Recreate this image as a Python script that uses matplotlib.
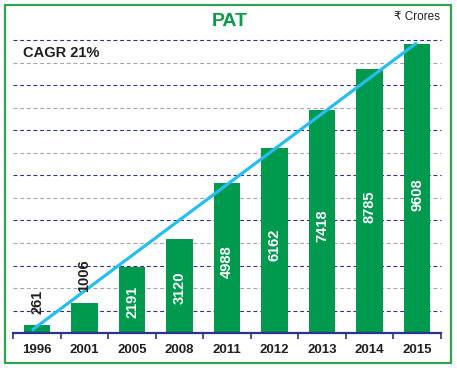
import matplotlib
matplotlib.use("Agg")
import matplotlib.pyplot as plt
from matplotlib.patches import Rectangle
import numpy as np

plt.rcParams['font.family'] = ['Liberation Sans', 'DejaVu Sans']

years = ['1996', '2001', '2005', '2008', '2011', '2012', '2013', '2014', '2015']
pat = [261, 1006, 2191, 3120, 4988, 6162, 7418, 8785, 9608]
trend_x = [-0.11, 8.0]
trend_y = [100, 9660]
grid_step = 750
y_max = 9750

GREEN = '#009a4e'
NAVY = '#2a3588'
GRAY = '#a3a3c0'
DARK = '#231f20'
CYAN = '#27bdf0'

fig = plt.figure(figsize=(4.57, 3.68), dpi=100)
fig.patch.set_facecolor('white')
fig.patches.append(Rectangle((5 / 457, 5 / 368), 446 / 457, 358 / 368,
                             transform=fig.transFigure, fill=False,
                             edgecolor='#2ea14f', linewidth=1.6))

ax = fig.add_axes([13.3 / 457, (368 - 333.3) / 368, 427.5 / 457, 293.3 / 368])
x = np.arange(len(years))

for i, gy in enumerate(np.arange(grid_step, y_max + 1, grid_step)):
    ax.axhline(gy, color=NAVY if i % 2 == 0 else GRAY, lw=0.8,
               linestyle=(0, (3.5, 2.5)), zorder=1, clip_on=False)

ax.bar(x, pat, width=0.56, color=GREEN, zorder=2)
ax.plot(trend_x, trend_y, color=CYAN, lw=2.3, zorder=3, solid_capstyle='butt')

for xi, v in zip(x, pat):
    if v < 2000:
        ax.annotate(str(v), (xi, v), xytext=(0, 8), textcoords='offset points',
                    rotation=90, ha='center', va='bottom', fontsize=10.5,
                    fontweight='bold', color=DARK, zorder=4)
    else:
        ax.text(xi, v * 0.48, str(v), rotation=90, ha='center', va='center',
                fontsize=10.5, fontweight='bold', color='white', zorder=4)

ax.set_xlim(-0.5, len(years) - 0.5)
ax.set_ylim(0, y_max)
for s in ['top', 'left', 'right']:
    ax.spines[s].set_visible(False)
ax.spines['bottom'].set_color(NAVY)
ax.spines['bottom'].set_linewidth(1.6)
ax.spines['bottom'].set_zorder(5)
ax.set_yticks([])
ax.set_xticks(x)
ax.set_xticklabels(years, fontsize=9.5, fontweight='bold', color=DARK)
ax.tick_params(axis='x', which='major', length=0, pad=7.5)
ax.set_xticks(np.arange(-0.5, len(years)), minor=True)
ax.tick_params(axis='x', which='minor', length=4, width=1.2, color=NAVY, direction='out')
ax.patch.set_alpha(0)

fig.text(0.503, 0.941, 'PAT', ha='center', va='center', fontsize=14,
         fontweight='bold', color='#0a9a48')
fig.text(0.963, 0.955, '₹ Crores', ha='right', va='center', fontsize=8.5, color=DARK)
fig.text(0.0497, 0.856, 'CAGR 21%', ha='left', va='center', fontsize=10.5,
         fontweight='bold', color=DARK)

fig.savefig('out.png', dpi=100, facecolor='white')
